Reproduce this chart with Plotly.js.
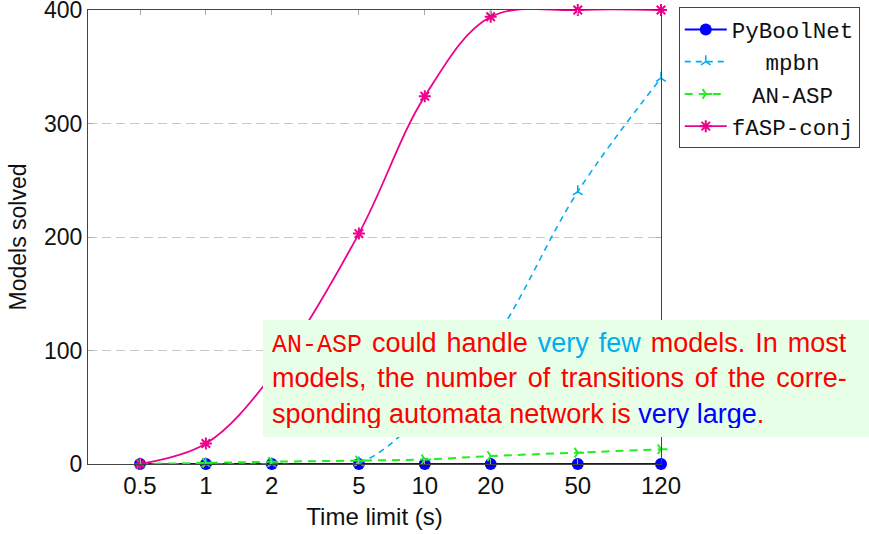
<!DOCTYPE html>
<html>
<head>
<meta charset="utf-8">
<script src="https://cdn.plot.ly/plotly-3.0.1.min.js"></script>
<style>html,body{margin:0;padding:0;background:#fff;}#chart{width:869px;height:534px;}</style>
</head>
<body>
<div id="chart"></div>
<script>
// Data
const timeLimits = [0.5, 1, 2, 5, 10, 20, 50, 120];
const tickLabels = ["0.5", "1", "2", "5", "10", "20", "50", "120"];
const yTicks = [0, 100, 200, 300, 400];
const pyboolnet = [0, 0, 0, 0, 0, 0, 0, 0];
const mpbn = [0, 0, 0, 1, 45, 105, 240, 340];
const anAsp = [0, 1, 2, 3, 4, 7, 10, 13];
const faspConj = [0, 18, 78, 203, 324, 394, 400, 400];
const seriesNames = ["PyBoolNet", "mpbn", "AN-ASP", "fASP-conj"];

const sansFont = "Liberation Sans, Arial, sans-serif";
const monoFont = "Liberation Mono, DejaVu Sans Mono, monospace";
const NB = "\u00A0";
const halfSp = '<span style="font-size:11px">' + NB + '</span>';
// legend labels centred in the legend column (monospace padding)
const legendLabels = [
  seriesNames[0],
  NB + NB + halfSp + seriesNames[1],
  NB + halfSp + seriesNames[2],
  seriesNames[3]
];

const traces = [
  {x: timeLimits, y: pyboolnet, name: legendLabels[0], mode: "lines+markers",
   line: {color: "#0000ff", width: 2}, marker: {symbol: "circle", size: 12, color: "#0000ff"}, cliponaxis: false},
  {x: timeLimits, y: mpbn, name: legendLabels[1], mode: "lines+markers",
   line: {color: "#00aeef", width: 1.6, dash: "6px,5px", shape: "spline", smoothing: 1},
   marker: {symbol: "y-up-open", size: 8, color: "#00aeef", line: {color: "#00aeef", width: 1.6}}, cliponaxis: false},
  {x: timeLimits, y: anAsp, name: legendLabels[2], mode: "lines+markers",
   line: {color: "#22ee22", width: 2, dash: "8px,6px", shape: "spline", smoothing: 1},
   marker: {symbol: "y-right-open", size: 8, color: "#22ee22", line: {color: "#22ee22", width: 2}}, cliponaxis: false},
  {x: timeLimits, y: faspConj, name: legendLabels[3], mode: "lines+markers",
   line: {color: "#ec008c", width: 1.8, shape: "spline", smoothing: 1},
   marker: {symbol: "asterisk-open", size: 10, color: "#ec008c", line: {color: "#ec008c", width: 2}}, cliponaxis: false}
];

const annText =
  '<span style="word-spacing:2.5px"><span style="font-family:\'Liberation Mono\', monospace;font-size:25px">AN-ASP</span> could handle ' +
  '<span style="color:#00aeef">very few</span> models. In most</span><br>' +
  '<span style="word-spacing:3.2px">models, the number of transitions of the corre-</span><br>' +
  'sponding automata network is <span style="color:#0000ff">very large</span>.';

const layout = {
  width: 869, height: 534,
  margin: {l: 88, r: 208, t: 10, b: 70, autoexpand: false},
  paper_bgcolor: "#ffffff", plot_bgcolor: "#ffffff",
  font: {family: sansFont, size: 21, color: "#111"},
  showlegend: true,
  xaxis: {
    type: "log",
    range: [-0.5386, Math.log10(120)],
    tickvals: timeLimits, ticktext: tickLabels,
    ticks: "inside", ticklen: 5, tickcolor: "#aaa", tickwidth: 1,
    showline: true, linecolor: "#444", linewidth: 1, mirror: "ticks",
    showgrid: false, zeroline: false,
    tickfont: {family: sansFont, size: 24, color: "#111"},
    title: {text: "Time limit (s)", font: {family: sansFont, size: 24, color: "#111"}, standoff: 10}
  },
  yaxis: {
    range: [0, 400],
    tickvals: yTicks,
    ticks: "inside", ticklen: 5, tickcolor: "#aaa", tickwidth: 1,
    showline: true, linecolor: "#444", linewidth: 1, mirror: "ticks",
    showgrid: true, gridcolor: "#c8c8c8", griddash: "9px,5px", gridwidth: 1,
    zeroline: false,
    ticklabelstandoff: 0, ticklabeloverflow: "allow",
    tickfont: {family: sansFont, size: 23, color: "#111"},
    title: {text: "Models solved", font: {family: sansFont, size: 23, color: "#111"}, standoff: 10}
  },
  legend: {
    x: 1.031, y: 1.006, xanchor: "left", yanchor: "top",
    bgcolor: "#ffffff", bordercolor: "#444", borderwidth: 1,
    font: {family: monoFont, size: 22.5, color: "#111"},
    itemwidth: 42, tracegroupgap: 0
  },
  annotations: [{
    xref: "paper", yref: "paper",
    x: (263 - 88) / 573, y: (464 - 320) / 454,
    xanchor: "left", yanchor: "top",
    showarrow: false, align: "left", valign: "middle",
    bgcolor: "#e6ffe6", borderpad: 9, borderwidth: 0,
    width: 588, height: 99,
    text: annText,
    font: {family: sansFont, size: 27, color: "#ff0000"}
  }]
};

Plotly.newPlot("chart", traces, layout, {displayModeBar: false, staticPlot: true});
</script>
</body>
</html>
